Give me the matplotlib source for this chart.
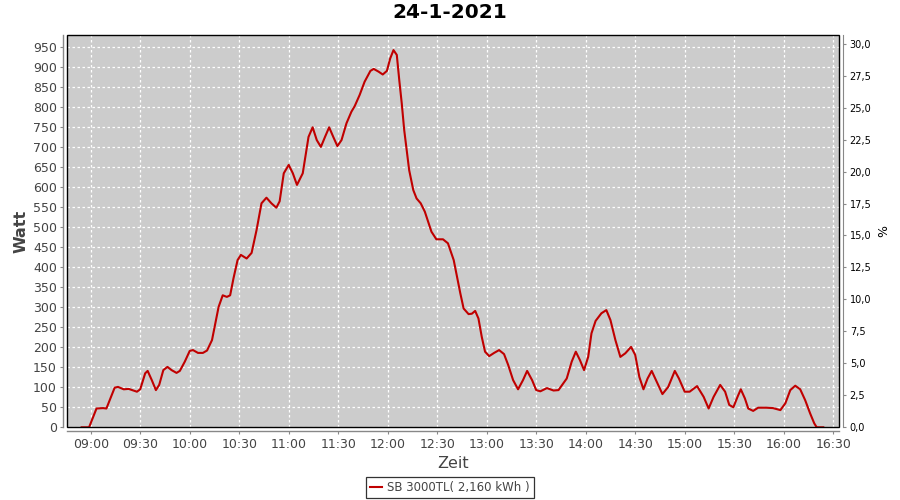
import matplotlib
matplotlib.use("Agg")
import matplotlib.pyplot as plt
from matplotlib.patches import Rectangle
import matplotlib.ticker as mticker

title = "24-1-2021"
series_name = "SB 3000TL( 2,160 kWh )"

times = [
    "08:54:30", "08:59:00", "09:03:30", "09:07:30", "09:09:30", "09:14:30", "09:16:30", "09:20:00",
    "09:23:00", "09:28:00", "09:30:00", "09:33:00", "09:34:30", "09:37:00", "09:39:30", "09:41:30",
    "09:44:00", "09:46:30", "09:49:00", "09:52:00", "09:54:00", "09:57:00", "10:00:00", "10:02:00",
    "10:05:00", "10:08:00", "10:10:30", "10:13:30", "10:15:30", "10:17:30", "10:20:00", "10:22:30",
    "10:24:30", "10:26:30", "10:29:00", "10:31:00", "10:34:30", "10:37:30", "10:40:30", "10:43:30",
    "10:46:30", "10:49:30", "10:52:30", "10:54:30", "10:57:00", "11:00:00", "11:02:30", "11:05:00",
    "11:08:30", "11:12:00", "11:14:30", "11:17:00", "11:19:30", "11:22:00", "11:24:30", "11:27:00",
    "11:29:30", "11:32:00", "11:35:00", "11:38:00", "11:40:00", "11:43:00", "11:46:00", "11:49:30",
    "11:51:30", "11:54:30", "11:57:00", "11:59:30", "12:01:30", "12:03:30", "12:05:30", "12:07:00",
    "12:08:30", "12:10:00", "12:11:30", "12:13:00", "12:15:30", "12:17:30", "12:20:00", "12:22:30",
    "12:24:30", "12:26:30", "12:29:30", "12:33:30", "12:36:30", "12:40:00", "12:42:00", "12:44:00",
    "12:46:00", "12:49:00", "12:51:00", "12:53:00", "12:55:00", "12:57:00", "12:59:00", "13:01:30",
    "13:04:30", "13:07:30", "13:10:30", "13:13:00", "13:16:00", "13:19:00", "13:22:00", "13:24:30",
    "13:27:30", "13:30:00", "13:32:30", "13:36:30", "13:40:30", "13:43:30", "13:48:30", "13:51:30",
    "13:54:00", "13:56:30", "13:59:00", "14:01:30", "14:03:30", "14:06:00", "14:09:30", "14:12:30",
    "14:15:00", "14:18:00", "14:21:00", "14:24:00", "14:27:30", "14:30:00", "14:32:30", "14:35:00",
    "14:37:30", "14:40:00", "14:43:00", "14:46:30", "14:50:00", "14:54:00", "14:56:30", "15:00:00",
    "15:03:00", "15:07:30", "15:11:30", "15:14:30", "15:17:30", "15:21:30", "15:24:30", "15:27:00",
    "15:29:30", "15:32:00", "15:34:00", "15:36:30", "15:38:30", "15:41:30", "15:44:30", "15:49:30",
    "15:53:30", "15:58:00", "16:01:00", "16:04:00", "16:07:00", "16:10:00", "16:13:00", "16:16:00",
    "16:18:30", "16:20:00", "16:24:00",
]
watt = [
    0, 0, 47, 48, 47, 99, 101, 95,
    96, 89, 95, 135, 141, 118, 93, 106,
    143, 151, 143, 136, 141, 164, 191, 193,
    186, 186, 192, 218, 260, 301, 330, 326,
    330, 372, 418, 431, 422, 436, 493, 560,
    574, 560, 549, 565, 635, 656, 635, 606,
    635, 726, 750, 718, 701, 726, 750, 726,
    703, 718, 760, 789, 803, 831, 864, 891,
    896, 889, 882, 891, 922, 943, 931, 868,
    810, 743, 693, 643, 593, 572, 560, 539,
    514, 489, 470, 470, 460, 418, 376, 335,
    297, 283, 284, 291, 272, 226, 189, 178,
    186, 193, 183, 156, 118, 95, 118, 141,
    118, 93, 90, 98, 92, 93, 122, 164,
    189, 168, 143, 176, 235, 266, 285, 293,
    268, 218, 176, 185, 201, 181, 126, 95,
    122, 141, 114, 83, 101, 141, 122, 89,
    89, 103, 76, 47, 76, 106, 89, 56,
    50, 76, 95, 72, 47, 41, 49, 49,
    48, 43, 60, 93, 104, 95, 68, 35,
    10, 0, 0,
]

x_tick_labels = ["09:00", "09:30", "10:00", "10:30", "11:00", "11:30", "12:00", "12:30",
                 "13:00", "13:30", "14:00", "14:30", "15:00", "15:30", "16:00", "16:30"]
y_ticks = list(range(0, 951, 50))
pct_ticks = [0, 2.5, 5, 7.5, 10, 12.5, 15, 17.5, 20, 22.5, 25, 27.5, 30]


def to_min(s):
    parts = [int(p) for p in s.split(":")]
    m = parts[0] * 60 + parts[1]
    if len(parts) > 2:
        m += parts[2] / 60.0
    return m


xm = [to_min(t) for t in times]
xt = [to_min(t) for t in x_tick_labels]

fig = plt.figure(figsize=(9, 5), dpi=100)
fig.patch.set_facecolor("white")
L, R, T, B = 67.3, 839.3, 34.7, 427.3
ax = fig.add_axes([L / 900, 1 - B / 500, (R - L) / 900, (B - T) / 500])
ax.set_facecolor("#cccccc")

ax.plot(xm, watt, color="#c00000", lw=1.5, zorder=3, solid_joinstyle="round")

ax.set_xlim(525.8, 993.7)
ax.set_ylim(0, 981.5)
ax.set_xticks(xt)
ax.set_xticklabels(x_tick_labels)
ax.set_yticks(y_ticks)
ax.set_yticklabels([str(v) for v in y_ticks])
ax.grid(True, color="white", linestyle=(0, (2, 2)), lw=0.9, zorder=1)
ax.set_axisbelow(True)

grey = "#444444"
for s in ["top", "right"]:
    ax.spines[s].set_visible(False)
for s in ["left", "bottom"]:
    ax.spines[s].set_position(("outward", 3))
    ax.spines[s].set_color("#888888")
    ax.spines[s].set_linewidth(1.0)
ax.tick_params(axis="both", colors="#888888", labelcolor=grey, labelsize=9, length=2.5, width=0.8, pad=2)

ax.add_patch(Rectangle((0, 0), 1, 1, transform=ax.transAxes, fill=False, ec="black", lw=1.0,
                       zorder=6, clip_on=False))

ax.set_ylabel("Watt", fontsize=11.5, fontweight="bold", color=grey, labelpad=3)
ax.set_xlabel("Zeit", fontsize=11.5, color=grey, labelpad=4)

ax2 = ax.twinx()
ax2.set_ylim(0, 30.7)
ax2.set_yticks(pct_ticks)
ax2.yaxis.set_major_formatter(mticker.FuncFormatter(lambda v, p: f"{v:.1f}".replace(".", ",")))
for s in ["top", "left", "bottom"]:
    ax2.spines[s].set_visible(False)
ax2.spines["right"].set_position(("outward", 3))
ax2.spines["right"].set_color("#888888")
ax2.tick_params(axis="y", colors="#888888", labelcolor="black", labelsize=7, length=2.5, width=0.8, pad=2)
ax2.set_ylabel("%", fontsize=9, color="black", labelpad=4)

fig.text(450 / 900, 1 - 13 / 500, title, ha="center", va="center", fontsize=14.5, fontweight="bold")

leg = fig.legend([ax.lines[0]], [series_name], loc="center", bbox_to_anchor=(450 / 900, 1 - 487.5 / 500),
                 fontsize=8.5, frameon=True, fancybox=False, edgecolor="black", handlelength=1.0,
                 handletextpad=0.4, borderpad=0.35, borderaxespad=0)
leg.get_frame().set_linewidth(0.9)
for t in leg.get_texts():
    t.set_color(grey)

fig.savefig("out.png", dpi=100)
